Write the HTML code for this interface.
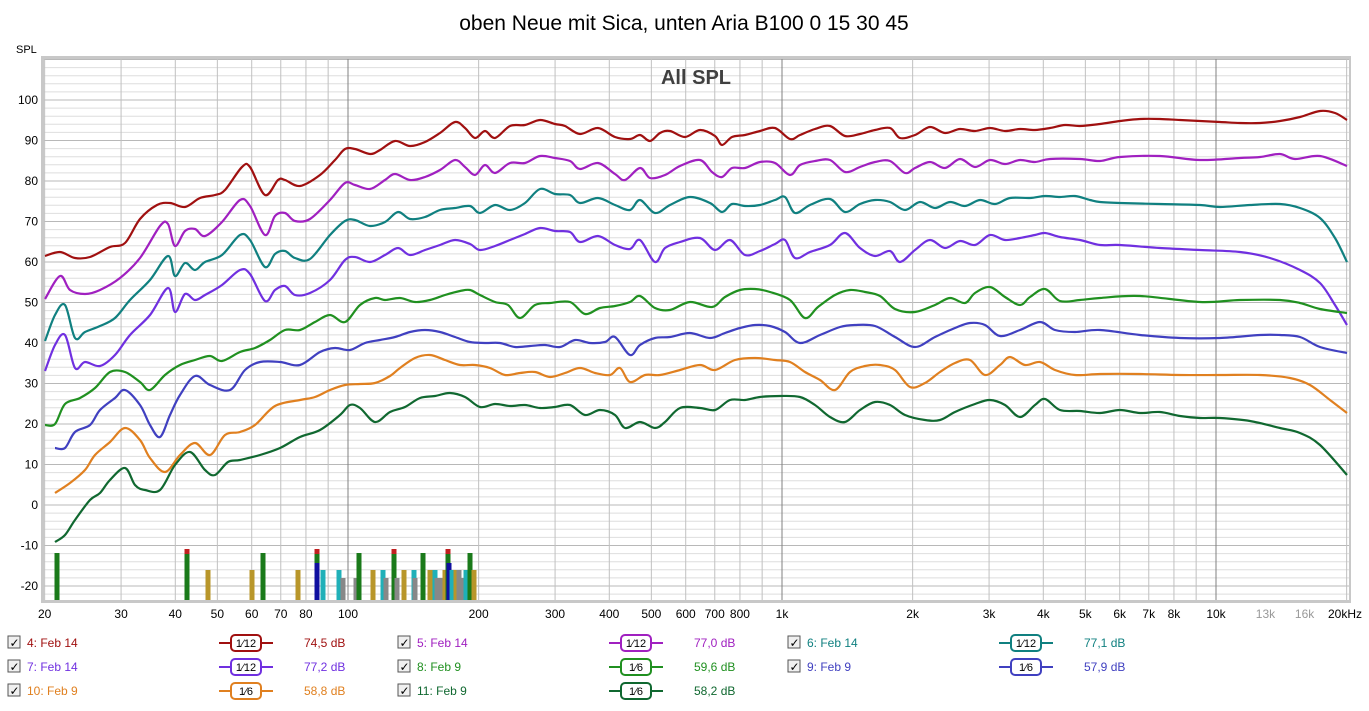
<!DOCTYPE html>
<html><head><meta charset="utf-8"><style>
body{margin:0;background:#fff;width:1369px;height:706px;overflow:hidden;font-family:"Liberation Sans",sans-serif}
</style></head><body>
<svg id="s" width="1369" height="706" xmlns="http://www.w3.org/2000/svg" font-family="Liberation Sans, sans-serif">
<text x="684" y="30" font-size="21" text-anchor="middle" fill="#000">oben Neue mit Sica, unten Aria B100 0 15 30 45</text>
<text x="16" y="53" font-size="11" fill="#000">SPL</text>
<rect x="41" y="56" width="1310" height="547" fill="#c8c8c8"/>
<rect x="44" y="59" width="1305" height="541" fill="#fff"/>
<g id="grid"></g>
<text x="696" y="84" font-size="20" font-weight="bold" text-anchor="middle" fill="#404040">All SPL</text>
<g id="bars"></g>
<g id="curves" fill="none" stroke-width="2.2"></g>
<g id="lab" font-size="12"></g>
<g id="leg" font-size="12"></g>
</svg>
<script>
const NS="http://www.w3.org/2000/svg";
function el(p,t,a,txt){const e=document.createElementNS(NS,t);for(const k in a)e.setAttribute(k,a[k]);if(txt!==undefined)e.textContent=txt;p.appendChild(e);return e;}
const X=f=>348+434*Math.log10(f/100);
const Y=d=>505-4.05*d;
const g=document.getElementById('grid');
for(let d=-22;d<=110;d+=2){const y=Y(d);if(y<59||y>600)continue;el(g,'line',{x1:44,x2:1349,y1:y,y2:y,stroke:d%10==0?'#b8b8b8':'#dedede','stroke-width':1});}
let fs=[];for(let dec of [10,100,1000,10000])for(let m=1;m<10;m++){let f=dec*m;if(f>=20&&f<=20000)fs.push(f);}
fs.forEach(f=>{const x=X(f);const maj=(f==100||f==1000||f==10000);el(g,'line',{x1:x,x2:x,y1:59,y2:600,stroke:maj?'#808080':'#c0c0c0','stroke-width':1});});
const lab=document.getElementById('lab');
for(let d=-20;d<=100;d+=10)el(lab,'text',{x:38,y:Y(d)+4,'text-anchor':'end'},d);
[[20,'20'],[30,'30'],[40,'40'],[50,'50'],[60,'60'],[70,'70'],[80,'80'],[100,'100'],[200,'200'],[300,'300'],[400,'400'],[500,'500'],[600,'600'],[700,'700'],[800,'800'],[1000,'1k'],[2000,'2k'],[3000,'3k'],[4000,'4k'],[5000,'5k'],[6000,'6k'],[7000,'7k'],[8000,'8k'],[10000,'10k'],[13000,'13k'],[16000,'16k']].forEach(([f,t])=>{el(lab,'text',{x:X(f),y:618,'text-anchor':'middle',fill:(f==13000||f==16000)?'#999':'#000'},t);});
el(lab,'text',{x:1345,y:618,'text-anchor':'middle'},'20kHz');
// bars
const b=document.getElementById('bars');
const bars=[[57,553,'#1a7a1a'],[187,549,'#1a7a1a'],[208,570,'#b8962a'],[252,570,'#b8962a'],[263,553,'#1a7a1a'],[298,570,'#b8962a'],[317,549,'#1a7a1a'],[317,563,'#1010a0'],[323,570,'#20b0b8'],[339,570,'#20b0b8'],[343,578,'#888'],[356,578,'#888'],[359,553,'#1a7a1a'],[373,570,'#b8962a'],[383,570,'#20b0b8'],[386,578,'#888'],[394,549,'#1a7a1a'],[397,578,'#888'],[404,570,'#b8962a'],[414,570,'#20b0b8'],[415,578,'#888'],[423,553,'#1a7a1a'],[430,570,'#b8962a'],[435,570,'#20b0b8'],[437,578,'#888'],[442,578,'#888'],[445,570,'#b8962a'],[448,549,'#1a7a1a'],[449,563,'#1010a0'],[452,570,'#20b0b8'],[456,570,'#b8962a'],[459,570,'#888'],[463,578,'#888'],[466,570,'#20b0b8'],[470,553,'#1a7a1a'],[474,570,'#b8962a']];
bars.forEach(([x,y,c])=>el(b,'rect',{x:x-2.5,y:y,width:5,height:600-y,fill:c}));
[[187,549],[317,549],[394,549],[448,549]].forEach(([x,y])=>el(b,'rect',{x:x-2.5,y:y,width:5,height:5,fill:'#c02020'}));
function path(pts){let d='M'+pts[0][0]+','+pts[0][1];for(let i=0;i<pts.length-1;i++){const p0=pts[i-1]||pts[i],p1=pts[i],p2=pts[i+1],p3=pts[i+2]||p2;const c1=[p1[0]+(p2[0]-p0[0])/6,p1[1]+(p2[1]-p0[1])/6],c2=[p2[0]-(p3[0]-p1[0])/6,p2[1]-(p3[1]-p1[1])/6];d+=`C${c1[0].toFixed(1)},${c1[1].toFixed(1)} ${c2[0].toFixed(1)},${c2[1].toFixed(1)} ${p2[0]},${p2[1]}`;}return d;}
const S={
'#a01010':[[45,256],[60,252],[75,258],[90,257],[110,247],[125,243],[140,219],[157,205],[170,203],[185,207],[200,198],[215,195],[225,190],[242,167],[250,167],[265,195],[278,180],[285,180],[300,186],[320,175],[335,160],[345,149],[355,149],[370,154],[380,150],[395,141],[410,146],[425,142],[440,133],[455,122],[465,128],[475,138],[485,131],[495,138],[510,126],[525,125],[540,120],[555,124],[565,126],[580,134],[598,128],[615,137],[630,139],[640,135],[650,141],[660,133],[670,131],[685,137],[700,130],[715,136],[722,145],[732,137],[745,135],[760,131],[775,128],[790,139],[800,135],[815,129],[830,126],[845,136],[860,134],[875,130],[890,128],[900,138],[915,135],[930,127],[945,133],[960,129],[975,131],[990,128],[1005,131],[1020,129],[1035,130],[1050,128],[1065,125],[1080,126],[1100,124],[1120,121],[1140,119],[1160,119],[1180,120],[1200,121],[1220,122],[1240,123],[1260,123],[1280,121],[1300,117],[1320,111],[1335,113],[1347,120]],
'#a020c0':[[45,299],[60,276],[70,290],[85,294],[100,290],[120,278],[140,258],[160,226],[168,224],[175,246],[185,231],[195,229],[205,236],[222,222],[240,200],[250,206],[265,235],[275,216],[285,213],[295,221],[310,219],[330,200],[345,183],[355,185],[370,189],[385,180],[395,174],[410,180],[425,177],[440,170],[455,160],[465,167],[475,175],[485,165],[495,173],[510,163],[525,163],[540,156],[555,158],[570,161],[580,169],[598,163],[615,174],[625,180],[640,168],[650,178],[665,175],[680,166],[700,160],[712,172],[722,177],[732,168],[745,168],[760,162],[775,163],[790,175],[800,165],[815,161],[830,160],[845,172],[860,167],[875,162],[890,161],[905,173],[915,168],[930,162],[945,168],[960,159],[975,167],[990,160],[1005,164],[1020,160],[1035,162],[1050,159],[1080,159],[1100,161],[1120,157],[1160,156],[1200,160],[1240,158],[1260,157],[1280,154],[1295,159],[1320,156],[1347,166]],
'#108080':[[45,341],[55,315],[65,305],[75,338],[85,332],[100,326],[115,318],[130,300],[150,280],[168,256],[175,276],[185,263],[195,270],[205,262],[222,255],[240,235],[250,240],[265,267],[275,254],[285,251],[295,258],[310,259],[330,235],[345,221],[355,220],[370,226],[385,222],[398,212],[410,219],[425,217],[440,210],[455,208],[470,206],[480,213],[495,205],[510,210],[525,203],[540,189],[555,194],[570,195],[580,203],[598,198],[615,205],[630,210],[640,200],[655,213],[670,205],[690,197],[710,203],[722,212],[732,204],[745,206],[760,205],[775,200],[785,197],[795,213],[810,205],[830,199],[845,212],[860,204],[875,200],[890,202],[905,210],[920,202],[935,208],[950,202],[965,206],[980,200],[995,204],[1010,198],[1030,198],[1045,196],[1060,197],[1075,196],[1090,200],[1100,202],[1120,203],[1160,204],[1200,205],[1220,207],[1250,205],[1280,204],[1300,208],[1320,218],[1335,238],[1347,262]],
'#7030e0':[[45,371],[55,345],[65,335],[75,368],[85,362],[100,366],[115,355],[130,335],[150,315],[168,288],[175,312],[185,294],[195,300],[205,295],[222,285],[240,270],[250,274],[265,301],[275,290],[285,286],[295,295],[310,293],[330,280],[345,260],[355,257],[370,262],[385,255],[398,248],[410,255],[425,250],[440,245],[455,240],[470,244],[480,250],[495,246],[510,240],[525,234],[540,228],[555,231],[570,232],[580,242],[598,236],[615,245],[630,249],[640,240],[655,262],[665,248],[680,242],[700,238],[715,250],[730,240],[745,255],[760,251],[775,244],[785,240],[795,258],[810,252],[830,245],[845,233],[860,248],[875,256],[890,251],[900,262],[915,250],[930,240],[945,248],[960,241],[975,245],[990,235],[1005,240],[1020,238],[1035,235],[1045,233],[1060,237],[1080,240],[1100,245],[1120,245],[1160,248],[1200,250],[1240,252],[1270,258],[1300,270],[1320,283],[1335,305],[1347,325]],
'#209020':[[45,425],[55,424],[65,404],[80,398],[95,388],[110,372],[125,372],[140,382],[150,390],[165,375],[180,365],[195,360],[210,356],[222,361],[240,352],[255,348],[270,340],[285,330],[300,330],[315,322],[330,315],[345,322],[360,305],[375,298],[385,300],[400,298],[415,302],[430,300],[445,295],[460,291],[470,290],[480,295],[495,302],[508,305],[520,318],[535,305],[550,303],[570,302],[585,314],[600,308],[615,306],[630,302],[640,296],[655,308],[670,310],[690,302],[712,307],[725,297],[740,290],[755,289],[770,292],[790,300],[805,318],[818,307],[835,295],[850,290],[865,292],[880,296],[895,309],[915,312],[935,305],[950,298],[965,303],[975,293],[990,287],[1005,297],[1020,305],[1030,297],[1045,289],[1060,301],[1080,300],[1100,298],[1140,296],[1200,302],[1240,300],[1280,300],[1300,303],[1320,309],[1347,313]],
'#4040c0':[[55,448],[65,448],[75,432],[90,425],[100,410],[115,398],[125,390],[140,405],[150,425],[160,437],[170,415],[180,395],[195,376],[210,385],[230,390],[245,370],[260,362],[280,362],[300,365],[320,352],[335,348],[350,350],[365,343],[380,340],[395,337],[410,332],[425,330],[440,332],[455,337],[470,342],[485,343],[500,343],[515,347],[530,346],[545,345],[560,347],[575,340],[590,343],[605,342],[615,337],[630,355],[640,345],[655,338],[670,337],[690,333],[710,338],[725,333],[740,328],[755,325],[770,326],[785,332],[800,343],[820,335],[840,327],[855,325],[875,326],[895,337],[915,347],[935,337],[955,328],[970,323],[985,325],[1000,336],[1020,330],[1040,322],[1055,330],[1075,332],[1100,330],[1140,335],[1180,338],[1220,338],[1260,335],[1280,335],[1300,337],[1320,347],[1347,353]],
'#e08020':[[55,493],[70,483],[85,470],[95,455],[110,442],[125,428],[140,440],[150,458],[165,472],[180,455],[195,443],[210,455],[225,435],[240,432],[255,425],[275,406],[300,400],[315,397],[330,390],[345,385],[360,384],[375,383],[390,376],[400,368],[415,358],[430,355],[445,360],[460,365],[475,365],[490,368],[505,375],[520,373],[535,372],[550,377],[565,373],[580,368],[595,373],[610,375],[620,368],[630,382],[645,375],[660,375],[680,370],[700,365],[715,370],[735,360],[755,358],[775,360],[790,362],[805,372],[820,380],[835,390],[850,372],[865,366],[880,365],[895,370],[910,387],[925,383],[940,372],[955,363],[970,360],[985,375],[1000,365],[1010,357],[1025,365],[1040,362],[1055,370],[1075,375],[1100,374],[1140,374],[1180,375],[1220,375],[1260,375],[1290,378],[1310,385],[1330,400],[1347,413]],
'#106830':[[55,542],[65,535],[75,520],[90,500],[100,493],[110,480],[125,468],[135,485],[145,490],[160,490],[175,465],[190,452],[205,470],[215,475],[228,462],[240,460],[260,455],[280,448],[300,437],[320,430],[340,415],[350,405],[360,408],[375,422],[390,412],[405,407],[420,398],[435,396],[450,393],[465,397],[480,407],[495,404],[510,406],[525,405],[540,408],[555,407],[570,405],[585,415],[600,410],[615,415],[625,428],[640,422],[655,428],[665,422],[680,408],[700,408],[715,410],[730,400],[745,400],[760,397],[780,396],[800,397],[815,405],[830,417],[845,422],[860,410],[875,402],[890,405],[905,415],[925,420],[940,420],[955,412],[975,404],[990,400],[1005,405],[1020,417],[1035,405],[1045,399],[1060,410],[1080,411],[1100,413],[1120,410],[1140,413],[1160,412],[1180,416],[1200,418],[1220,418],[1250,421],[1280,428],[1300,433],[1320,445],[1347,475]]};
const cg=document.getElementById('curves');
for(const c in S)el(cg,'path',{d:path(S[c]),stroke:c});
// legend
const L=document.getElementById('leg');
const items=[
[0,0,'4: Feb 14','#a01010','12','74,5 dB'],[1,0,'5: Feb 14','#a020c0','12','77,0 dB'],[2,0,'6: Feb 14','#108080','12','77,1 dB'],
[0,1,'7: Feb 14','#7030e0','12','77,2 dB'],[1,1,'8: Feb 9','#209020','6','59,6 dB'],[2,1,'9: Feb 9','#4040c0','6','57,9 dB'],
[0,2,'10: Feb 9','#e08020','6','58,8 dB'],[1,2,'11: Feb 9','#106830','6','58,2 dB']];
items.forEach(([c,r,name,col,fr,db])=>{
 const x0=8+c*390,y=643+r*24;
 el(L,'rect',{x:x0,y:y-7,width:12,height:12,fill:'#f0f0f0',stroke:'#555','stroke-width':1});
 el(L,'text',{x:x0+1.5,y:y+4,'font-size':12,fill:'#000'},'✓');
 el(L,'text',{x:x0+19,y:y+4,fill:col},name);
 el(L,'line',{x1:x0+211,x2:x0+265,y1:y,y2:y,stroke:col,'stroke-width':2});
 el(L,'rect',{x:x0+223,y:y-8,width:30,height:16,rx:4,fill:'#fff',stroke:col,'stroke-width':2});
 el(L,'text',{x:x0+238,y:y+4,'text-anchor':'middle','font-size':11,fill:'#000'},'1⁄'+fr);
 el(L,'text',{x:x0+296,y:y+4,fill:col},db);
});
</script>
</body></html>
